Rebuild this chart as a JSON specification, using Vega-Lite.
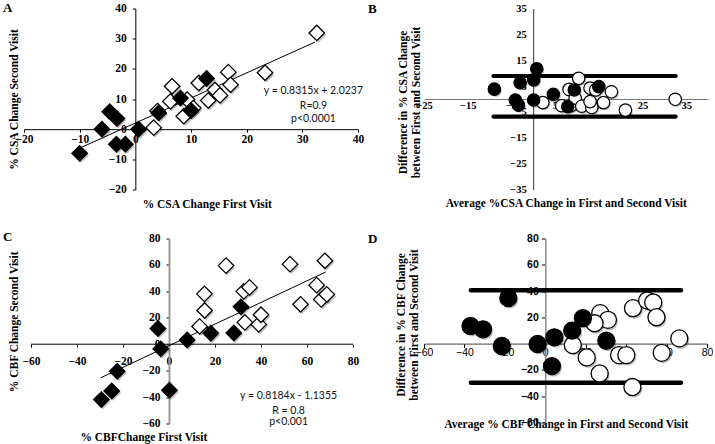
{
  "$schema": "https://vega.github.io/schema/vega-lite/v6.json",
  "padding": {"left": 3, "top": 1.5, "right": 0, "bottom": 0},
  "background": "white",
  "columns": 2,
  "bounds": "flush",
  "spacing": {"row": 49, "column": 66},
  "config": {
    "view": {"stroke": null},
    "axis": {
      "grid": false, "labelFlush": false, "labelOverlap": false,
      "labelColor": "black", "titleColor": "black", "tickColor": "black", "domainColor": "black",
      "titleBaseline": "middle", "titleAlign": "center",
      "labelFont": "Liberation Serif", "labelFontWeight": "bold", "labelFontSize": 11.5,
      "titleFont": "Liberation Serif", "titleFontWeight": "bold", "titleFontSize": 11.5
    },
    "title": {"font": "Liberation Serif", "fontWeight": "bold", "fontSize": 13, "color": "black", "anchor": "start", "frame": "group", "offset": 0, "baseline": "alphabetic", "align": "left"}
  },
  "datasets": {
    "aPts": [
      {"x": 3.3, "y": 0.5, "series": "open"}, {"x": 4, "y": 6, "series": "open"}, {"x": 6.6, "y": 14.2, "series": "open"},
      {"x": 6.3, "y": 9.2, "series": "open"}, {"x": 8.7, "y": 4.3, "series": "open"}, {"x": 9.3, "y": 9.8, "series": "open"},
      {"x": 10.4, "y": 7, "series": "open"}, {"x": 11.4, "y": 15.3, "series": "open"}, {"x": 13.1, "y": 9.5, "series": "open"},
      {"x": 14.3, "y": 13, "series": "open"}, {"x": 15.2, "y": 11.2, "series": "open"}, {"x": 16.7, "y": 18.9, "series": "open"},
      {"x": 17.1, "y": 14.7, "series": "open"}, {"x": 23.3, "y": 18.7, "series": "open"}, {"x": 32.6, "y": 31.9, "series": "open"},
      {"x": -10, "y": -8, "series": "filled"}, {"x": -6, "y": 0, "series": "filled"}, {"x": -4.6, "y": 5.8, "series": "filled"},
      {"x": -3.3, "y": 3.5, "series": "filled"}, {"x": -3.4, "y": -5, "series": "filled"}, {"x": -1.8, "y": -5, "series": "filled"},
      {"x": 0.6, "y": 0, "series": "filled"}, {"x": 4.2, "y": 5.4, "series": "filled"}, {"x": 8.1, "y": 10.3, "series": "filled"},
      {"x": 10, "y": 6.2, "series": "filled"}, {"x": 12.8, "y": 16.8, "series": "filled"}
    ],
    "aLine": [{"x": -9.9, "y": -6.21}, {"x": 32.3, "y": 28.88}],
    "aEq": [
      {"x": 32, "y": 12.8, "t": "y = 0.8315x + 2.0237"},
      {"x": 32, "y": 7.8, "t": "R=0.9"},
      {"x": 32, "y": 3.4, "t": "p<0.0001"}
    ],
    "bPts": [
      {"x": 2.2, "y": -1.4, "series": "open"}, {"x": 10.4, "y": 8.0, "series": "open"}, {"x": 8.2, "y": 3.7, "series": "open"},
      {"x": 13, "y": 4.2, "series": "open"}, {"x": 14.3, "y": 3.5, "series": "open"}, {"x": 17.9, "y": 2.8, "series": "open"},
      {"x": 6.5, "y": -2.6, "series": "open"}, {"x": 8.7, "y": -2.5, "series": "open"}, {"x": 9.6, "y": 0.3, "series": "open"},
      {"x": 11.1, "y": -2.8, "series": "open"}, {"x": 13.4, "y": -3.3, "series": "open"}, {"x": 13, "y": -1, "series": "open"},
      {"x": 16.1, "y": -1.4, "series": "open"}, {"x": 21.1, "y": -4.3, "series": "open"}, {"x": 32.5, "y": -0.1, "series": "open"},
      {"x": -8.9, "y": 3.8, "series": "filled"}, {"x": -3.0, "y": 6.3, "series": "filled"}, {"x": -4.1, "y": -0.4, "series": "filled"},
      {"x": -3.4, "y": -2.3, "series": "filled"}, {"x": 0.1, "y": 7.4, "series": "filled"}, {"x": 0.8, "y": 11.7, "series": "filled"},
      {"x": 0.1, "y": -0.4, "series": "filled"}, {"x": 4.6, "y": 1.8, "series": "filled"}, {"x": 9.4, "y": 3.5, "series": "filled"},
      {"x": 7.9, "y": -3.0, "series": "filled"}, {"x": 15, "y": 4.8, "series": "filled"}
    ],
    "bLines": [{"x": -9.1, "x2": 32.6, "y": 8.9}, {"x": -9.1, "x2": 32.6, "y": -6.8}],
    "cPts": [
      {"x": 13.3, "y": 13.5, "series": "open"}, {"x": 15.5, "y": 25.5, "series": "open"}, {"x": 15.4, "y": 38.1, "series": "open"},
      {"x": 24.8, "y": 59.5, "series": "open"}, {"x": 32.5, "y": 40, "series": "open"}, {"x": 35, "y": 43, "series": "open"},
      {"x": 33, "y": 16.5, "series": "open"}, {"x": 39, "y": 15, "series": "open"}, {"x": 40, "y": 22.3, "series": "open"},
      {"x": 52.6, "y": 60.6, "series": "open"}, {"x": 57.2, "y": 30.2, "series": "open"}, {"x": 64.2, "y": 44.7, "series": "open"},
      {"x": 66.2, "y": 33.9, "series": "open"}, {"x": 67.8, "y": 63.1, "series": "open"}, {"x": 68.6, "y": 37.7, "series": "open"},
      {"x": -4.8, "y": 11.9, "series": "filled"}, {"x": -3.6, "y": -3.5, "series": "filled"}, {"x": 7.9, "y": 3.2, "series": "filled"},
      {"x": -22.5, "y": -20.5, "series": "filled"}, {"x": -24.9, "y": -35.4, "series": "filled"}, {"x": -29.4, "y": -41.9, "series": "filled"},
      {"x": 0.2, "y": -34.8, "series": "filled"}, {"x": 18.2, "y": 8.3, "series": "filled"}, {"x": 28.2, "y": 8.5, "series": "filled"},
      {"x": 31.3, "y": 28.3, "series": "filled"}
    ],
    "cLine": [{"x": -29.7, "y": -25.44}, {"x": 68.1, "y": 54.6}],
    "cAxis": [{"x": -60, "x2": 80, "y": 0}],
    "cEq": [
      {"x": 52, "y": -39.4, "t": "y = 0.8184x - 1.1355"},
      {"x": 52, "y": -50.2, "t": "R = 0.8"},
      {"x": 52, "y": -59.0, "t": "p<0.001"}
    ],
    "dPts": [
      {"x": 27.2, "y": 23.2, "series": "open"}, {"x": 31, "y": 18.1, "series": "open"}, {"x": 24.4, "y": 15.5, "series": "open"},
      {"x": 13.6, "y": -1.1, "series": "open"}, {"x": 20.5, "y": -10.5, "series": "open"}, {"x": 26.9, "y": -22.7, "series": "open"},
      {"x": 36.5, "y": -8.7, "series": "open"}, {"x": 40.1, "y": -8.7, "series": "open"}, {"x": 43.4, "y": 27, "series": "open"},
      {"x": 50.4, "y": 32.8, "series": "open"}, {"x": 53.4, "y": 31.3, "series": "open"}, {"x": 55, "y": 20.1, "series": "open"},
      {"x": 57.6, "y": -7, "series": "open"}, {"x": 66.3, "y": 4, "series": "open"}, {"x": 43.1, "y": -33, "series": "open"},
      {"x": -18.3, "y": 34.7, "series": "filled"}, {"x": -37, "y": 13.5, "series": "filled"}, {"x": -30.8, "y": 10.9, "series": "filled"},
      {"x": -21.5, "y": -1.8, "series": "filled"}, {"x": -3.8, "y": -0.3, "series": "filled"}, {"x": 4.5, "y": 4.8, "series": "filled"},
      {"x": 3.3, "y": -17.1, "series": "filled"}, {"x": 18.6, "y": 19.4, "series": "filled"}, {"x": 13.3, "y": 9.9, "series": "filled"},
      {"x": 30.2, "y": 2.2, "series": "filled"}
    ],
    "dLines": [{"x": -36.8, "x2": 67.1, "y": 40.7}, {"x": -36.8, "x2": 67.1, "y": -29.8}]
  },
  "concat": [
    {
      "width": 334, "height": 181,
      "title": {"text": "A", "dx": -21, "dy": 16.5},
      "encoding": {
        "x": {"field": "x", "type": "quantitative", "scale": {"domain": [-20, 40], "nice": false, "zero": false},
          "axis": {"title": "% CSA Change First Visit", "values": [-20, -10, 0, 10, 20, 30, 40], "offset": -60.33,
            "tickSize": 3, "labelPadding": 1, "titleX": 182.7, "titleY": 75.3}},
        "y": {"field": "y", "type": "quantitative", "scale": {"domain": [-20, 40], "nice": false, "zero": false},
          "axis": {"title": "% CSA Change Second  Visit", "values": [-20, -10, 0, 10, 20, 30, 40], "offset": -111.33,
            "tickSize": 3, "labelPadding": 6, "titleX": -120.8, "titleY": 90.5}}
      },
      "layer": [
        {"data": {"name": "aLine"}, "mark": {"type": "line", "color": "black", "strokeWidth": 1}, "encoding": {}},
        {"data": {"name": "aPts"}, "mark": {"type": "point", "shape": "diamond", "filled": true, "size": 240, "color": "#000", "opacity": 0.25, "xOffset": 1.5, "yOffset": 2}, "encoding": {}},
        {"data": {"name": "aPts"}, "mark": {"type": "point", "shape": "diamond", "filled": true, "size": 240, "stroke": "black", "strokeWidth": 1.3, "opacity": 1},
          "encoding": {"fill": {"field": "series", "type": "nominal", "scale": {"domain": ["open", "filled"], "range": ["white", "black"]}, "legend": null},
            "order": {"field": "series", "sort": "descending"}}},
        {"data": {"name": "aEq"}, "mark": {"type": "text", "font": "Lato", "fontSize": 10.5, "color": "#111", "align": "center", "baseline": "middle"},
          "encoding": {"text": {"field": "t"}}}
      ]
    },
    {
      "width": 284, "height": 181,
      "title": {"text": "B", "dx": -56, "dy": 16},
      "encoding": {
        "x": {"field": "x", "type": "quantitative", "scale": {"domain": [-25, 40], "nice": false, "zero": false},
          "axis": {"title": "Average %CSA Change in First and Second Visit", "values": [-25, -15, -5, 5, 15, 25, 35], "offset": -90.5,
            "tickSize": 0, "labelPadding": 1, "labelFontSize": 10.5, "domainColor": "#777", "titleX": 141.8, "titleY": 104.8}},
        "y": {"field": "y", "type": "quantitative", "scale": {"domain": [-35, 35], "nice": false, "zero": false},
          "axis": {"title": ["Difference in % CSA Change", "between First and Second Visit"], "values": [-35, -25, -15, -5, 5, 15, 25, 35], "offset": -109.17,
            "tickSize": 0, "labelPadding": 7, "labelFontSize": 10.5, "domainColor": "#333", "titleLineHeight": 12.5, "titleX": -129.2, "titleY": 93.5}}
      },
      "layer": [
        {"data": {"name": "bLines"}, "mark": {"type": "rule", "color": "black", "strokeWidth": 4.2, "strokeCap": "round"}, "encoding": {"x2": {"field": "x2"}}},
        {"data": {"name": "bPts"}, "mark": {"type": "point", "shape": "circle", "filled": true, "size": 155, "color": "#000", "opacity": 0.25, "xOffset": 1.2, "yOffset": 1.5}, "encoding": {}},
        {"data": {"name": "bPts"}, "mark": {"type": "point", "shape": "circle", "filled": true, "size": 155, "stroke": "black", "strokeWidth": 1.2, "opacity": 1},
          "encoding": {"fill": {"field": "series", "type": "nominal", "scale": {"domain": ["open", "filled"], "range": ["white", "black"]}, "legend": null},
            "order": {"field": "series", "sort": "descending"}}}
      ]
    },
    {
      "width": 329, "height": 185,
      "title": {"text": "C", "dx": -21, "dy": 15.75},
      "encoding": {
        "x": {"field": "x", "type": "quantitative", "scale": {"domain": [-63.04, 80], "nice": false, "zero": false},
          "axis": {"title": "% CBFChange First Visit", "values": [-60, -40, -20, 0, 20, 40, 60, 80], "offset": -79.3, "domain": false,
            "tickSize": 3, "labelPadding": 8, "titleX": 119.3, "titleY": 93.3}},
        "y": {"field": "y", "type": "quantitative", "scale": {"domain": [-60, 80], "nice": false, "zero": false},
          "axis": {"title": "% CBF Change Second Visit", "values": [-60, -40, -20, 0, 20, 40, 60, 80], "offset": -145,
            "tickSize": 3, "labelPadding": 6, "domainColor": "#999", "domainWidth": 2, "titleX": -154.8, "titleY": 82.8}}
      },
      "layer": [
        {"data": {"name": "cAxis"}, "mark": {"type": "rule", "color": "black", "strokeWidth": 1}, "encoding": {"x2": {"field": "x2"}}},
        {"data": {"name": "cLine"}, "mark": {"type": "line", "color": "black", "strokeWidth": 1}, "encoding": {}},
        {"data": {"name": "cPts"}, "mark": {"type": "point", "shape": "diamond", "filled": true, "size": 240, "color": "#000", "opacity": 0.25, "xOffset": 1.5, "yOffset": 2}, "encoding": {}},
        {"data": {"name": "cPts"}, "mark": {"type": "point", "shape": "diamond", "filled": true, "size": 240, "stroke": "black", "strokeWidth": 1.3, "opacity": 1},
          "encoding": {"fill": {"field": "series", "type": "nominal", "scale": {"domain": ["open", "filled"], "range": ["white", "black"]}, "legend": null},
            "order": {"field": "series", "sort": "descending"}}},
        {"data": {"name": "cEq"}, "mark": {"type": "text", "font": "Lato", "fontSize": 10.5, "color": "#111", "align": "center", "baseline": "middle"},
          "encoding": {"text": {"field": "t"}}}
      ]
    },
    {
      "width": 283, "height": 184,
      "title": {"text": "D", "dx": -56, "dy": 16.75},
      "encoding": {
        "x": {"field": "x", "type": "quantitative", "scale": {"domain": [-60, 80], "nice": false, "zero": false},
          "axis": {"title": "Average % CBF Change in First and Second Visit", "values": [-60, -40, -20, 0, 20, 40, 60, 80], "offset": -78.9,
            "tickSize": 4, "labelPadding": 0, "labelFont": "Liberation Sans", "labelFontWeight": "normal", "labelFontSize": 10.5, "domainColor": "#444",
            "titleX": 141.8, "titleY": 80.6}},
        "y": {"field": "y", "type": "quantitative", "scale": {"domain": [-60, 80], "nice": false, "zero": false},
          "axis": {"title": ["Difference in % CBF  Change", "between First and Second Visit"], "values": [-60, -40, -20, 0, 20, 40, 60, 80], "offset": -121.3,
            "tickSize": 4, "labelPadding": 3, "labelFont": "Liberation Sans", "labelFontWeight": "bold", "labelFontSize": 10.5, "domainColor": "#888", "domainWidth": 1.5,
            "titleLineHeight": 12.5, "titleX": -143.6, "titleY": 86}}
      },
      "layer": [
        {"data": {"name": "dLines"}, "mark": {"type": "rule", "color": "black", "strokeWidth": 4.5, "strokeCap": "round"}, "encoding": {"x2": {"field": "x2"}}},
        {"data": {"name": "dPts"}, "mark": {"type": "point", "shape": "circle", "filled": true, "size": 290, "color": "#000", "opacity": 0.25, "xOffset": 1.5, "yOffset": 2}, "encoding": {}},
        {"data": {"name": "dPts"}, "mark": {"type": "point", "shape": "circle", "filled": true, "size": 290, "stroke": "black", "strokeWidth": 1.3, "opacity": 1},
          "encoding": {"fill": {"field": "series", "type": "nominal", "scale": {"domain": ["open", "filled"], "range": ["white", "black"]}, "legend": null},
            "order": {"field": "series", "sort": "descending"}}}
      ]
    }
  ]
}
